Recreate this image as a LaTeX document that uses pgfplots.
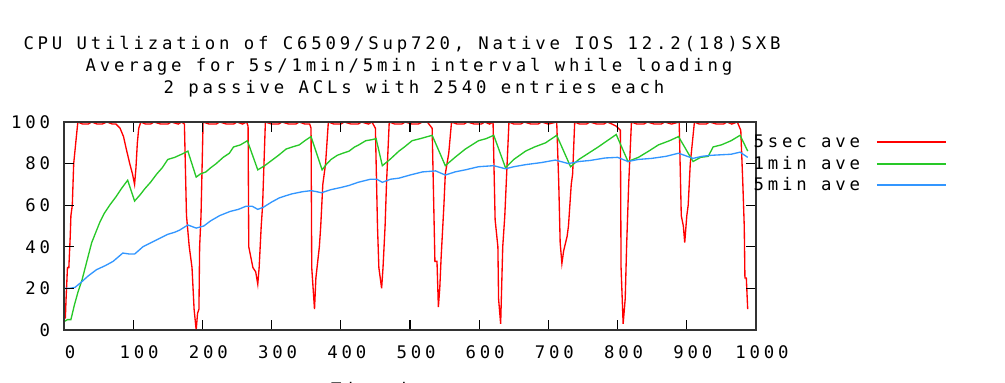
\documentclass[border=0pt]{standalone}
\usepackage{fontspec}
\usepackage{pgfplots}
\pgfplotsset{compat=1.18}
\newfontfamily\gfont[LetterSpace=22]{DejaVu Sans Mono}
\definecolor{gred}{RGB}{255,0,0}
\definecolor{ggreen}{RGB}{40,200,40}
\definecolor{gblue}{RGB}{50,150,255}
\begin{document}
\begin{tikzpicture}
\clip (0,0) rectangle (753.75pt,286.5pt);
\useasboundingbox (0,0) rectangle (753.75pt,286.5pt);
\node[font=\gfont\fontsize{13}{15}\selectfont] at (301.5pt,252.75pt) {CPU Utilization of C6509/Sup720, Native IOS 12.2(18)SXB};
\node[font=\gfont\fontsize{13}{15}\selectfont] at (306.75pt,236.25pt) {Average for 5s/1min/5min interval while loading};
\node[font=\gfont\fontsize{13}{15}\selectfont] at (310.5pt,219.75pt) {2 passive ACLs with 2540 entries each};
\node[font=\gfont\fontsize{13}{15}\selectfont] at (308.25pt,-5pt) {Time in secs};
\begin{axis}[
  at={(48pt,39pt)}, anchor=south west,
  scale only axis, width=519pt, height=156pt,
  xmin=0, xmax=1000, ymin=0, ymax=100,
  xtick={0,100,...,1000}, ytick={0,20,...,100},
  axis on top,
  axis line style={line width=1.1pt, black!80},
  major tick length=7.5pt,
  tick style={line width=0.8pt, black},
  tick align=inside,
  /pgf/number format/assume math mode=true,
  /pgf/number format/1000 sep={},
  tick label style={font=\gfont\fontsize{13}{15}\selectfont},
  xticklabel style={yshift=-8pt, xshift=4.5pt},
  yticklabel style={xshift=-7pt},
  legend style={at={(1,1)}, anchor=north west, draw=none, fill=none,
    font=\gfont\fontsize{13}{15}\selectfont, xshift=-4pt, yshift=-7.5pt,
    row sep=0.8pt, inner sep=0pt, column sep=10pt},
  legend cell align=right,
  legend plot pos=right,
  legend image code/.code={\draw[#1, line width=1.5pt] (0pt,0pt) -- (52pt,0pt);},
]
\addplot[gred, line width=1pt] coordinates {
(0,5) (2,6) (3,15) (5,30) (7,30) (9,45) (10,55) (12,60) (14,80) (17,90) (20,100)
(27,99) (35,99) (40,100) (48,99) (55,99) (62,100) (70,99) (75,99) (81,97)
(86,93) (90,87) (95,80) (99,75) (102,70) (104,78) (106,90) (108,97) (111,100)
(118,99) (125,99) (130,100) (140,99) (150,99) (155,100) (165,99) (170,100)
(174,99) (177,55) (181,40) (185,30) (188,10) (191,0) (193,8) (195,10) (196,40) (198,55) (201,100)
(210,99) (220,99) (225,100) (235,99) (245,99) (250,100) (258,99) (264,100)
(266,98) (267,40) (273,30) (277,28) (280,22) (282,30) (285,50) (287,60) (289,80) (291,100)
(300,99) (310,99) (315,100) (325,99) (335,99) (340,100) (348,99) (355,99)
(357,97) (358,30) (362,10) (364,25) (369,40) (371,50) (374,70) (378,80) (382,100)
(390,99) (400,99) (405,100) (415,99) (425,99) (430,100) (440,99) (445,100)
(450,97) (453,50) (455,30) (459,20) (461,30) (464,50) (466,70) (470,100)
(478,99) (488,99) (493,100) (503,99) (512,99) (518,100) (525,100)
(532,97) (536,33) (539,33) (541,11) (543,20) (545,35) (549,60) (551,75) (556,85) (560,100)
(568,99) (578,99) (583,100) (593,99) (603,99) (608,100) (615,99) (620,100)
(623,53) (627,40) (628,15) (631,3) (632,15) (634,40) (637,55) (639,70) (643,100)
(650,99) (660,99) (665,100) (675,99) (685,99) (690,100) (700,99) (712,100)
(715,70) (717,42) (719.5,32) (722,38) (727,45) (729,50) (733,70) (735,75) (738,100)
(745,99) (755,99) (760,100) (770,99) (780,99) (785,100) (792,99) (798,98)
(804,96) (805,30) (808,3) (811,15) (813,40) (816,70) (820,100)
(828,99) (838,99) (843,100) (853,99) (863,99) (868,100) (878,99) (889,100)
(892,55) (895,50) (897,42) (900,55) (902,60) (905,80) (908,90) (911,100)
(918,99) (928,99) (933,100) (943,99) (953,99) (958,100) (965,99) (973,100)
(978,96) (981,70) (983,50) (984,25) (986,25) (988,10)
};
\addlegendentry{5sec ave}
\addplot[ggreen, line width=1pt] coordinates {
(0,4) (5,5) (10,5) (15,12) (20,18) (26,24) (33,33) (40,42) (46,47) (52,52) (58,56) (66,60) (75,64) (83,68) (92,72)
(102,62) (110,65) (117,68) (125,71) (134,75) (142,78) (150,82) (160,83) (170,84.5) (179,86)
(191,73.5) (197,75) (205,76) (212,78) (220,80) (230,83) (239,85) (245,88) (255,89) (265,91)
(280,77) (290,79) (302,82) (310,84) (321,87) (330,88) (340,89) (348,91) (357,93)
(373,77) (380,80) (386,82) (395,84) (403,85) (412,86) (420,88) (426,89) (436,91) (445,91.5) (451,92)
(460,79) (471,82) (484,86) (492,88) (503,91) (515,92) (532,93.6)
(551,79) (565,83) (580,87) (599,91) (610,92) (621,93.6)
(638,78) (650,82) (667,86) (680,88) (696,90) (712,93.6)
(732,78.5) (744,82) (758,85) (772,88) (785,91) (798,94)
(815,81) (830,83) (845,86) (859,89) (875,91) (888,93)
(909,81) (920,83) (931,83.5) (938,88) (950,89) (964,91) (977,93.6) (988,86)
};
\addlegendentry{1min ave}
\addplot[gblue, line width=1pt] coordinates {
(0,20) (8,20) (16,20.5) (25,23) (35,26) (47,29) (60,31) (71,33) (78,35) (85,37) (95,36.5) (102,36.5)
(114,40) (126,42) (138,44) (150,46) (160,47) (167,48) (179,50.5) (191,49) (202,50) (212,52.5)
(225,55) (240,57) (252,58) (263,59.5) (272,59.5) (280,58) (288,59) (300,61.5) (311,63.5)
(320,64.5) (330,65.5) (345,66.5) (357,67) (365,66.5) (372,66) (386,67.5) (400,68.5) (412,69.5)
(425,71) (443,72.5) (452,72.5) (460,71) (472,72.5) (484,73) (500,74.5) (518,76) (537,76.5)
(551,74.5) (565,76) (580,77) (599,78.5) (621,79) (638,77.5) (650,78.5) (667,79.5) (690,80.5)
(710,81.7) (729,80) (744,81) (760,81.5) (782,82.7) (800,83) (815,81) (830,82) (849,82.5)
(870,83.5) (888,85) (909,82.5) (922,83.5) (936,84) (964,84.5) (977,85.5) (988,83)
};
\addlegendentry{5min ave}
\end{axis}
\end{tikzpicture}
\end{document}
